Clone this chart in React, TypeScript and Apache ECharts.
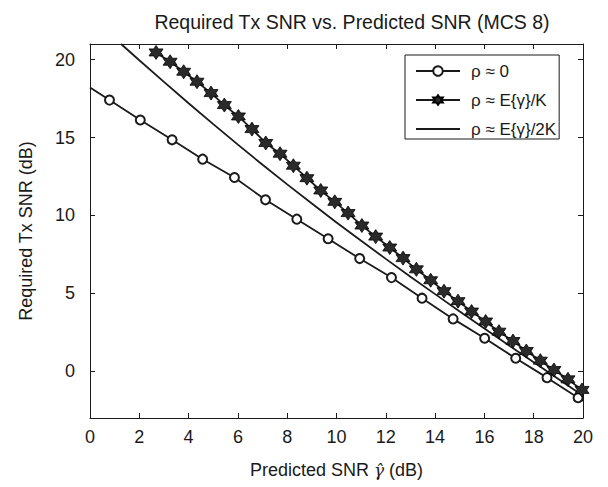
import React, { useEffect, useRef } from "react";
import * as echarts from "echarts";

// rho ≈ 0 (circle markers on interior points)
const rho0X = [0, 0.79, 2.04, 3.33, 4.57, 5.86, 7.12, 8.39, 9.66, 10.94, 12.23, 13.47, 14.73, 16.01, 17.27, 18.54, 19.8, 20];
const rho0Y = [18.21, 17.4, 16.12, 14.85, 13.61, 12.43, 11.0, 9.76, 8.5, 7.23, 6.01, 4.69, 3.36, 2.12, 0.83, -0.41, -1.7, -1.9];

// rho ≈ E{γ}/K (hexagram markers)
const rhoKX = [2.68, 3.25, 3.8, 4.34, 4.91, 5.45, 6.02, 6.57, 7.13, 7.71, 8.25, 8.8, 9.36, 9.93, 10.47, 11.03, 11.59, 12.16, 12.7, 13.24, 13.82, 14.36, 14.93, 15.48, 16.05, 16.59, 17.16, 17.7, 18.27, 18.82, 19.39, 19.96];
const rhoKY = [20.46, 19.86, 19.22, 18.58, 17.85, 17.08, 16.35, 15.54, 14.65, 13.96, 13.19, 12.39, 11.6, 10.87, 10.15, 9.35, 8.64, 7.94, 7.26, 6.54, 5.84, 5.14, 4.5, 3.83, 3.19, 2.54, 1.94, 1.3, 0.68, 0.08, -0.52, -1.2];

// rho ≈ E{γ}/2K (plain line)
const rho2KX = [1.26, 2, 3, 4, 5, 6, 7, 8, 9, 10, 11, 12, 13, 14, 15, 16, 17, 18, 19, 20];
const rho2KY = [21.0, 19.96, 18.57, 17.2, 15.86, 14.54, 13.25, 11.99, 10.76, 9.55, 8.37, 7.21, 6.07, 4.95, 3.84, 2.74, 1.65, 0.57, -0.5, -1.57];

const seriesNames = ["ρ ≈ 0", "ρ ≈ E{γ}/K", "ρ ≈ E{γ}/2K"];
const yTicks = [0, 5, 10, 15, 20];

const HEX = "path://M50 0L64.43 25L93.3 25L78.87 50L93.3 75L64.43 75L50 100L35.57 75L6.7 75L21.13 50L6.7 25L35.57 25Z";
const FONT = "Liberation Sans";
const INK = "#1a1a1a";

export default function App() {
  const ref = useRef<HTMLDivElement>(null);
  useEffect(() => {
    if (!ref.current) return;
    const chart = echarts.init(ref.current, undefined, { renderer: "svg" });
    const last = rho0X.length - 1;
    const d0 = rho0X.map((x, i) =>
      i === 0 || i === last ? { value: [x, rho0Y[i]], symbol: "none" } : { value: [x, rho0Y[i]] }
    );
    const dK = rhoKX.map((x, i) => [x, rhoKY[i]]);
    const d2K = rho2KX.map((x, i) => [x, rho2KY[i]]);
    const axisLine = { show: true, onZero: false, lineStyle: { color: INK, width: 1 } };
    const tick = { show: true, inside: true, length: 5, lineStyle: { color: INK, width: 1 } };
    chart.setOption({
      animation: false,
      backgroundColor: "#fff",
      title: {
        text: "Required Tx SNR vs. Predicted SNR (MCS 8)",
        left: 347,
        textAlign: "center",
        top: 7,
        textStyle: { fontFamily: FONT, fontSize: 19.5, fontWeight: "normal", color: INK },
      },
      grid: { left: 90, top: 44, width: 493, height: 374, containLabel: false, outerBoundsMode: "none" },
      legend: {
        orient: "vertical",
        left: 405,
        top: 55,
        padding: [6, 3, 0, 10],
        itemWidth: 44,
        itemHeight: 12,
        itemGap: 9,
        borderColor: INK,
        borderWidth: 1,
        borderRadius: 0,
        backgroundColor: "#fff",
        data: [
          { name: seriesNames[0] },
          { name: seriesNames[1] },
          { name: seriesNames[2], itemStyle: { opacity: 0 } },
        ],
        textStyle: { fontFamily: FONT, fontSize: 17, color: INK, lineHeight: 20, padding: [0, 0, 0, 6] },
      },
      xAxis: [
        {
          type: "value",
          min: 0,
          max: 20,
          interval: 2,
          position: "bottom",
          axisLine,
          axisTick: tick,
          splitLine: { show: false },
          axisLabel: { margin: 10, fontFamily: FONT, fontSize: 18, color: INK },
          name: "Predicted SNR {g|γ̂} (dB)",
          nameLocation: "middle",
          nameGap: 43,
          nameTextStyle: {
            fontFamily: FONT,
            fontSize: 18,
            color: INK,
            rich: { g: { fontFamily: "DejaVu Serif", fontStyle: "italic", fontSize: 17, color: INK } },
          },
        },
        {
          type: "value",
          min: 0,
          max: 20,
          interval: 2,
          position: "top",
          axisLine,
          axisTick: tick,
          splitLine: { show: false },
          axisLabel: { show: false },
        },
      ],
      yAxis: [
        {
          type: "value",
          min: -3,
          max: 21,
          position: "left",
          axisLine,
          axisTick: { ...tick, customValues: yTicks },
          splitLine: { show: false },
          axisLabel: { margin: 15, fontFamily: FONT, fontSize: 18, color: INK, customValues: yTicks },
          name: "Required Tx SNR (dB)",
          nameLocation: "middle",
          nameGap: 55,
          nameTextStyle: { fontFamily: FONT, fontSize: 18, color: INK },
        },
        {
          type: "value",
          min: -3,
          max: 21,
          position: "right",
          axisLine,
          axisTick: { ...tick, customValues: yTicks },
          splitLine: { show: false },
          axisLabel: { show: false },
        },
      ],
      series: [
        {
          name: seriesNames[0],
          type: "line",
          data: d0,
          symbol: "emptyCircle",
          symbolSize: 9,
          showAllSymbol: true,
          lineStyle: { color: INK, width: 1.8 },
          itemStyle: { color: INK, borderColor: INK, borderWidth: 1.8 },
        },
        {
          name: seriesNames[1],
          type: "line",
          data: dK,
          symbol: HEX,
          symbolSize: 14,
          showAllSymbol: true,
          lineStyle: { color: INK, width: 1.8 },
          itemStyle: { color: "#2a2a2a", borderColor: "#000", borderWidth: 0.8 },
        },
        {
          name: seriesNames[2],
          type: "line",
          data: d2K,
          symbol: "none",
          lineStyle: { color: INK, width: 1.8 },
          itemStyle: { color: INK },
        },
      ],
    });
    return () => chart.dispose();
  }, []);
  return <div ref={ref} style={{ position: "fixed", left: 0, top: 0, width: 608, height: 487 }} />;
}
